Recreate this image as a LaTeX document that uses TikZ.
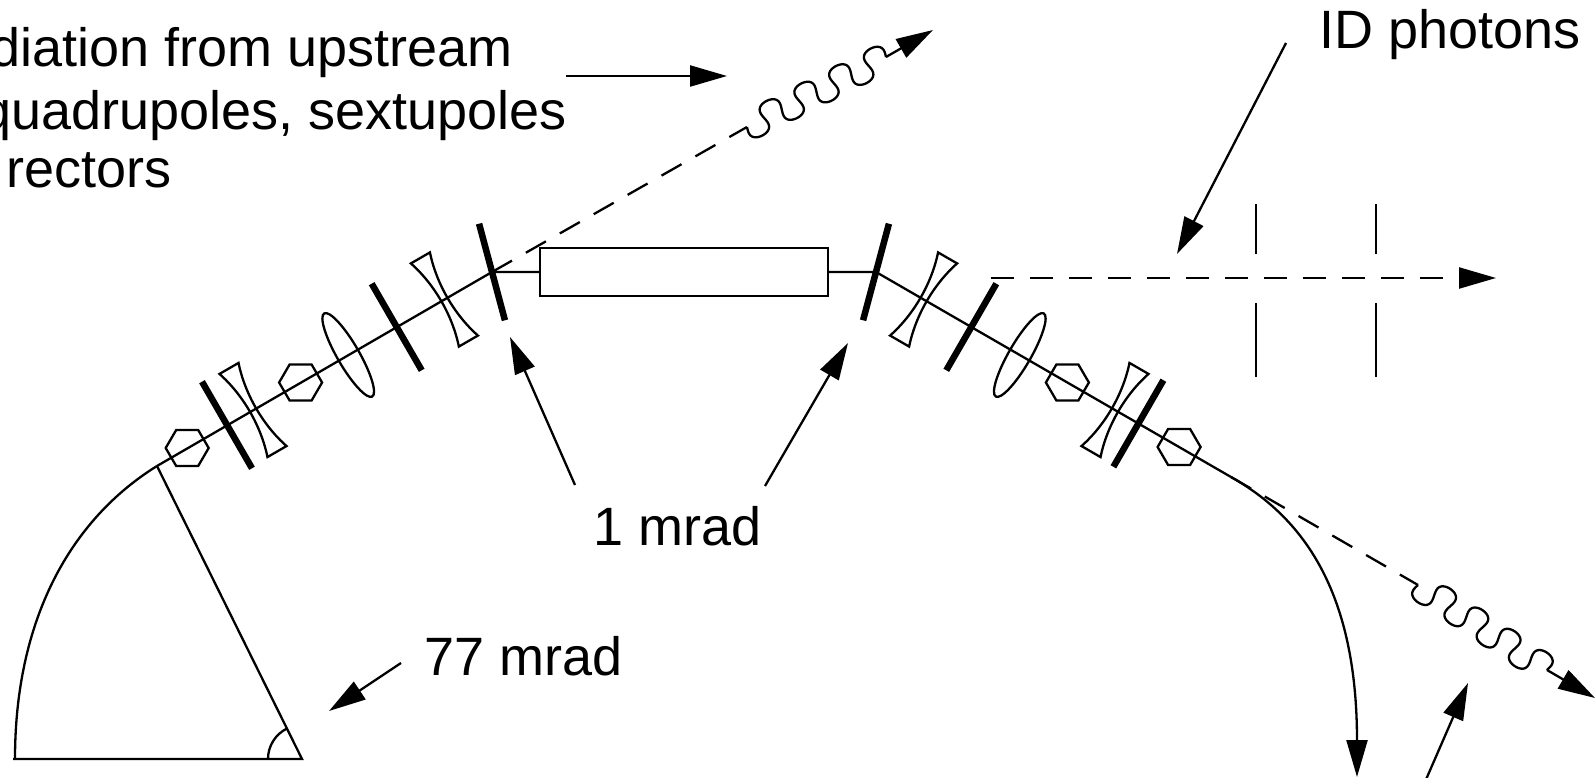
\documentclass[tikz,border=0pt]{standalone}
\usepackage{fontspec}
\setmainfont{Liberation Sans}
\usetikzlibrary{arrows.meta}
\tikzset{
  hexa/.pic={\draw (-21.5,0) -- (-11,-18) -- (11,-18) -- (21.5,0) -- (11,18) -- (-11,18) -- cycle;},
  dquad/.pic={\draw (-11,-48) -- (11,-48) .. controls (1,-18) and (1,18) .. (11,48) -- (-11,48) .. controls (-1,18) and (-1,-18) .. (-11,-48) -- cycle;},
  fquad/.pic={\draw (0,0) ellipse [x radius=11, y radius=48];},
  kbar/.pic={\draw[line width=6.5pt] (0,-50) -- (0,50);},
  tip/.style={-{Triangle[length=37pt,width=21pt]}},
  dsh/.style={dash pattern=on 23pt off 16pt},
  lbl/.style={font=\fontsize{54}{60}\selectfont,inner sep=0pt,anchor=base west}
}
\begin{document}
\begin{tikzpicture}[x=1pt,y=-1pt,line width=2.3pt]
\useasboundingbox (0,0) rectangle (1596,778);
\clip (0,0) rectangle (1596,778);

% key points
\coordinate (S1) at (157,466);
\coordinate (J1) at (492,272);
\coordinate (R1) at (540,272);
\coordinate (R2) at (828,272);
\coordinate (J2) at (876,272);
\coordinate (E2) at (1231,477);
\coordinate (B2) at (1357,777);

% beam line
\draw (S1) -- (J1) -- (R1);
\draw (R2) -- (J2) -- (E2);
\draw (540,248) rectangle (828,296);
\draw[tip] (E2) .. controls (1302,517) and (1357,590) .. (B2);

% sector at the left
\coordinate (C) at (302,759);
\coordinate (BL) at (13,759);
\draw (15,759) .. controls (15,620) and (70,520) .. (S1);
\draw (BL) -- (C) -- (S1);
\draw (268,759) .. controls (268,746) and (275.4,734.2) .. (287,728.5);

% upstream elements
\path (444.4,299.5) pic[rotate=30] {dquad};
\path (396.7,327) pic[rotate=30] {kbar};
\path (348.2,355) pic[rotate=30] {fquad};
\path (300.6,382.5) pic {hexa};
\path (253,410) pic[rotate=30] {dquad};
\path (227,425) pic[rotate=30] {kbar};
\path (187.2,448) pic {hexa};
\path (J1) pic[rotate=15] {kbar};

% downstream elements
\path (J2) pic[rotate=-15] {kbar};
\path (923.6,299.5) pic[rotate=-30] {dquad};
\path (971.3,327) pic[rotate=-30] {kbar};
\path (1019.8,355) pic[rotate=-30] {fquad};
\path (1067.4,382.5) pic {hexa};
\path (1115,410) pic[rotate=-30] {dquad};
\path (1138.4,423.5) pic[rotate=-30] {kbar};
\path (1179.1,447) pic {hexa};

% upper photon
\coordinate (P1) at (747,127);
\coordinate (P2) at (886,57);
\coordinate (P3) at (933,30);
\draw[dsh] (J1) -- (P1);
\draw[shift={(P1)},rotate=26.7] plot[domain=0:1440,samples=240,variable=\t,smooth]
  ({38.9*(\t/360) - 5*sin(2*\t)}, {14.5*sin(\t)});
\draw[tip] (P2) -- (P3);

% lower photon
\coordinate (Q1) at (1418,585);
\coordinate (Q2) at (1547,670);
\coordinate (Q3) at (1595,698);
\draw[dsh] (E2) -- (Q1);
\draw[shift={(Q1)},rotate=-33.4] plot[domain=0:1440,samples=240,variable=\t,smooth]
  ({38.6*(\t/360) - 5*sin(2*\t)}, {14.5*sin(\t)});
\draw[tip] (Q2) -- (Q3);

% ID photons beam and slits
\coordinate (D1) at (991,278);
\coordinate (D2) at (1496,278);
\draw[dsh,tip] (D1) -- (D2);
\draw (1256,204) -- (1256,254) (1256,303) -- (1256,377);
\draw (1376,204) -- (1376,254) (1376,303) -- (1376,377);

% labels
\node[lbl] (t1) at (-11,67) {diation from upstream};
\node[lbl] (t2) at (-20,130) {quadrupoles, sextupoles};
\node[lbl] (t3) at (5,188) {rectors};
\node[lbl] (id) at (1318,49) {ID photons};
\node[lbl] (one) at (592,545) {1 mrad};
\node[lbl] (sev) at (423,675) {77 mrad};

% pointer arrows
\coordinate (a1) at (566,76);  \coordinate (a2) at (727,76);
\draw[tip] (a1) -- (a2);
\coordinate (b1) at (575,485); \coordinate (b2) at (510,337);
\draw[tip] (b1) -- (b2);
\coordinate (c1) at (765,486); \coordinate (c2) at (848,343);
\draw[tip] (c1) -- (c2);
\coordinate (e1) at (401,663); \coordinate (e2) at (329,711);
\draw[tip] (e1) -- (e2);
\coordinate (f1) at (1286,43); \coordinate (f2) at (1177,254);
\draw[tip] (f1) -- (f2);
\coordinate (g1) at (1421,791); \coordinate (g2) at (1468,683);
\draw[tip] (g1) -- (g2);
\end{tikzpicture}
\end{document}
